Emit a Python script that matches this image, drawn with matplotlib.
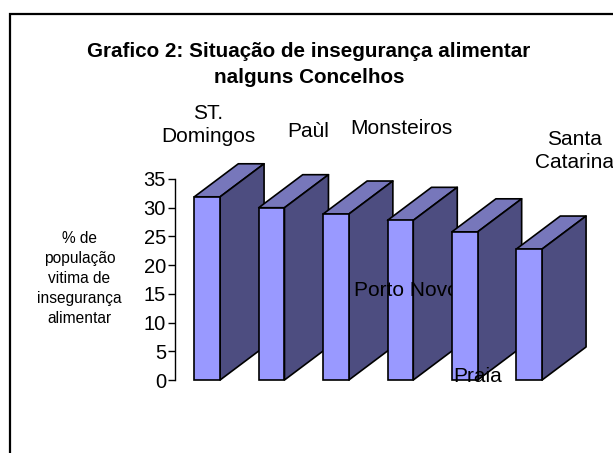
import matplotlib
matplotlib.use("Agg")
import matplotlib.pyplot as plt
from matplotlib.patches import Rectangle
from matplotlib.transforms import Bbox

# DATA
concelhos = ["ST.\nDomingos", "Paùl", "Monsteiros", "Porto Novo", "Praia", "Santa\nCatarina"]
valores = [31.9, 30, 28.9, 27.8, 25.8, 22.8]
y_ticks = [0, 5, 10, 15, 20, 25, 30, 35]

titulo = "Grafico 2: Situação de insegurança alimentar\nnalguns Concelhos"
y_titulo = "% de\npopulação\nvitima de\ninsegurança\nalimentar"

W, H = 613, 453
COR_FRENTE = "#9999FF"
COR_TOPO = "#7777BB"
COR_LADO = "#4D4D80"

plt.rcParams["font.family"] = ["Liberation Sans", "DejaVu Sans"]

fig = plt.figure(figsize=(W / 100, H / 100), dpi=100)


def fx(px):
    return px / W


def fy(px):
    return 1 - px / H


# MOLDURA DO GRAFICO
fig.add_artist(Rectangle((fx(10), fy(470)), fx(640), fy(14) - fy(470), transform=fig.transFigure,
                         facecolor="white", edgecolor="black", linewidth=1.6, zorder=-1))

# EIXOS
ax = fig.add_axes([fx(175), fy(380), fx(386.4), fy(179) - fy(380)])
ax.patch.set_alpha(0)
ax.set_xlim(-0.5, 5.5)
ax.set_ylim(0, 35)
ax.set_yticks(y_ticks)
ax.set_xticks([])
ax.tick_params(axis="y", length=5, width=1, labelsize=14.5, pad=1.5)
for lado in ["top", "right", "bottom"]:
    ax.spines[lado].set_visible(False)
ax.spines["left"].set_linewidth(1)

# BARRAS COM PROFUNDIDADE
largura = 0.4
prof_x = 0.683
prof_y = 5.75
for i, v in enumerate(valores):
    z = 3 + i * 2
    x0 = i - largura / 2
    x1 = i + largura / 2
    estilo = dict(edgecolor="black", linewidth=1.2, clip_on=False, zorder=z, joinstyle="round")
    ax.fill([x0, x1, x1 + prof_x, x0 + prof_x], [v, v, v + prof_y, v + prof_y], facecolor=COR_TOPO, **estilo)
    ax.fill([x1, x1 + prof_x, x1 + prof_x, x1], [0, prof_y, v + prof_y, v], facecolor=COR_LADO, **estilo)
    ax.bar(i, v, width=largura, color=COR_FRENTE, edgecolor="black", linewidth=1.2, clip_on=False, zorder=z + 0.5)

# ETIQUETAS DOS CONCELHOS
pos_etiquetas = [(208.5, 125), (308, 132), (401, 128), (406, 290), (478, 376), (574, 151)]
z_etiquetas = [20, 20, 20, 10, 20, 20]
for nome, (px, py), z in zip(concelhos, pos_etiquetas, z_etiquetas):
    t = ax.text(fx(px), fy(py), nome, transform=fig.transFigure, ha="center", va="center", fontsize=15,
                linespacing=1.33, color="black", zorder=z, clip_on=False)
    if nome == "Praia":
        # a etiqueta aparece cortada em baixo no original
        t.set_clip_box(Bbox([[0, H - 384], [W, H]]))
        t.set_clip_on(True)

# TITULOS
fig.text(fx(309), fy(64.5), titulo, ha="center", va="center", fontsize=14.9, fontweight="bold",
         linespacing=1.47)
fig.text(fx(79.5), fy(278.5), y_titulo, ha="center", va="center", fontsize=11.2, linespacing=1.42)

fig.savefig("out.png", dpi=100)
